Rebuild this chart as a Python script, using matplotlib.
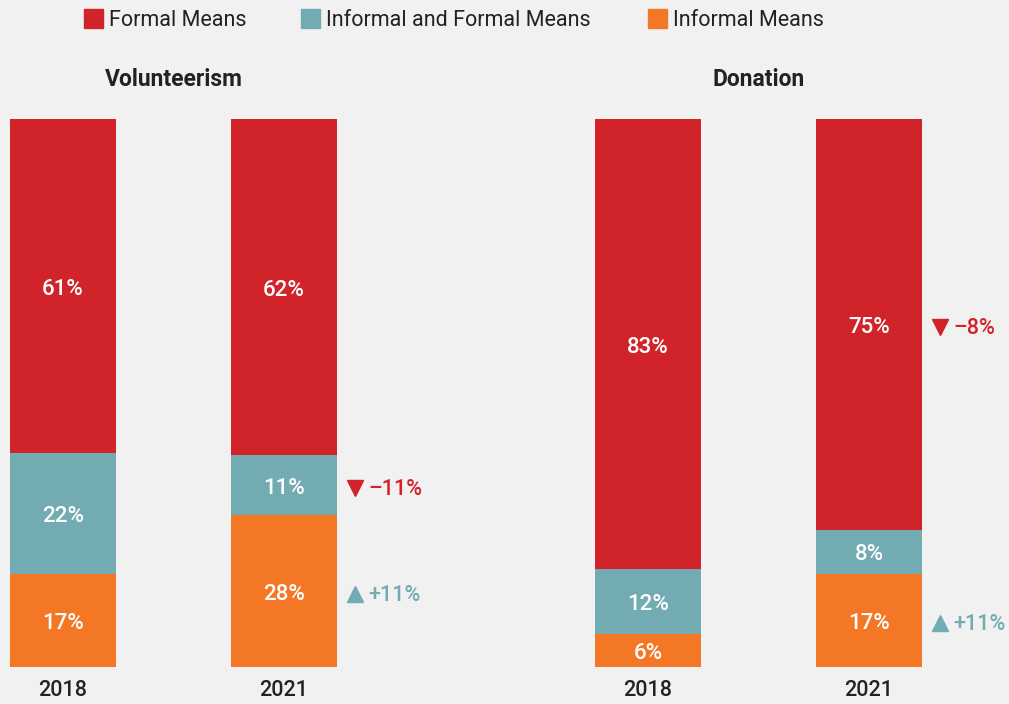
import matplotlib.pyplot as plt
import numpy as np

# data
groups = ["Volunteerism", "Donation"]
years = ["2018", "2021"]
series = ["Informal Means", "Informal and Formal Means", "Formal Means"]
# values per bar, bottom to top: informal, informal+formal, formal
volunteer = [[17, 22, 61], [28, 11, 62]]
donation = [[6, 12, 83], [17, 8, 75]]
# change labels shown next to the 2021 bars (segment index, sign, text)
volunteer_changes = [(1, "\u2013", "\u201311%"), (0, "+", "+11%")]
donation_changes = [(2, "\u2013", "\u20138%"), (0, "+", "+11%")]

colors = ["#f47725", "#72abb2", "#d0232a"]
bg = "#f1f1f1"

plt.rcParams['font.family'] = ['Roboto', 'DejaVu Sans']

fig = plt.figure(figsize=(10.09, 7.04), dpi=100, facecolor=bg)
ax = fig.add_axes([0, 1 - 667 / 704, 1, (667 - 119) / 704])
ax.set_facecolor(bg)

unit = 221.0
px_y = 100 / 548  # data units per pixel vertically
ax.set_xlim(-63 / unit, (1009 - 63) / unit)
ax.set_ylim(0, 100)
ax.axis("off")

positions = [[0, 1], [(648 - 63) / unit, (869 - 63) / unit]]
width = 106 / unit
data = [volunteer, donation]
changes = [volunteer_changes, donation_changes]

for g, name in enumerate(groups):
    for b, vals in enumerate(data[g]):
        x = positions[g][b]
        vals = np.array(vals, dtype=float)
        scaled = vals / vals.sum() * 100
        bottom = 0
        for k in range(3):
            ax.bar(x, scaled[k], width=width, bottom=bottom, color=colors[k], linewidth=0)
            ax.text(x, bottom + scaled[k] / 2 - 3 * px_y, f"{int(vals[k])}%", ha="center",
                    va="center", color="white", fontsize=16, fontweight="medium")
            bottom += scaled[k]
        ax.text(x, -24 * px_y, years[b], ha="center", va="center", fontsize=15.5,
                color="#222222", fontweight="medium", clip_on=False)
        if b == 1:
            for seg, sign, label in changes[g]:
                y = scaled[:seg].sum() + scaled[seg] / 2 - 2 * px_y
                c = colors[2] if sign != "+" else colors[1]
                mk = "v" if sign != "+" else "^"
                ax.plot(x + width / 2 + 18 / unit, y - px_y, marker=mk, color=c, markersize=11,
                        linestyle="none", clip_on=False)
                ax.text(x + width / 2 + 31 / unit, y - 2 * px_y, label, ha="left", va="center",
                        color=c, fontsize=15.5, fontweight="medium", clip_on=False)
    cx = np.mean(positions[g])
    ax.text(cx, 100 + 39 * px_y, name, ha="center", va="center", fontsize=16.5,
            fontweight="bold", color="#222222", clip_on=False)

# legend
legend_items = [("Formal Means", colors[2], 84), ("Informal and Formal Means", colors[1], 301),
                ("Informal Means", colors[0], 648)]
for label, c, px in legend_items:
    fig.patches.append(plt.Rectangle((px / 1009, 1 - 28 / 704), 19 / 1009, 19 / 704,
                                     transform=fig.transFigure, color=c, figure=fig))
    fig.text((px + 25) / 1009, 1 - 20.5 / 704, label, ha="left", va="center", fontsize=15.5,
             color="#222222")

fig.savefig("out.png", dpi=100, facecolor=bg)
